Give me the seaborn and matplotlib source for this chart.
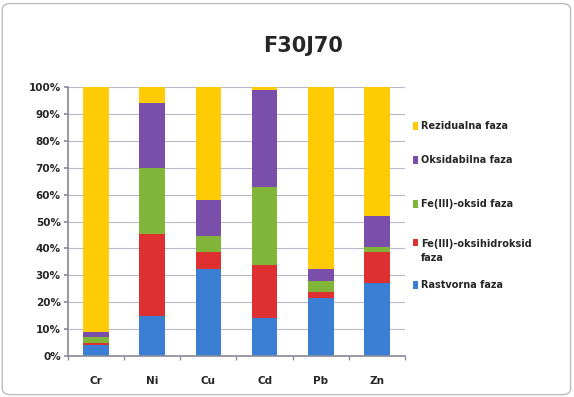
import numpy as np
import pandas as pd
import matplotlib
matplotlib.use("Agg")
import matplotlib.pyplot as plt
import seaborn as sns
from matplotlib.patches import Rectangle, FancyBboxPatch

# Fractions of each metal by extraction phase (%)
metals = ["Cr", "Ni", "Cu", "Cd", "Pb", "Zn"]
rastvorna = [4, 15, 32.5, 14, 21.5, 27]
oksihidroksid = [1, 30.5, 6, 20, 2.5, 11.5]
oksid = [2, 24.5, 6, 29, 4, 2]
oksidabilna = [2, 24, 13.5, 36, 4.5, 11.5]
rezidualna = [91, 6, 42, 1, 67.5, 48]

phases = ["Rastvorna faza", "Fe(III)-oksihidroksid\nfaza", "Fe(III)-oksid faza",
          "Oksidabilna faza", "Rezidualna faza"]
colors = ["#3b7fd4", "#de3030", "#80b53a", "#7a4fab", "#ffcb05"]

sns.set_theme(style="white")
plt.rcParams["font.family"] = ["DejaVu Sans"]

fig = plt.figure(figsize=(5.74, 3.97), dpi=100)
ax = fig.add_axes([0.118, 0.103, 0.588, 0.678])

series = [rastvorna, oksihidroksid, oksid, oksidabilna, rezidualna]
cum = np.cumsum(np.array(series, dtype=float), axis=0)
df = pd.DataFrame({"metal": metals})

# Stack by overdrawing cumulative totals, tallest first
for i in range(len(series) - 1, -1, -1):
    df["val"] = cum[i]
    sns.barplot(data=df, x="metal", y="val", color=colors[i], width=0.45,
                saturation=1, ax=ax, edgecolor="none", zorder=2 + (4 - i) * 0.01)

ax.set_ylim(0, 100)
ax.set_xlim(-0.5, 5.5)
ax.set_yticks(np.arange(0, 101, 10))
ax.set_yticklabels([f"{v}%" for v in range(0, 101, 10)], fontsize=7.5, fontweight="bold")
ax.set_xticklabels(metals, fontsize=7.5, fontweight="bold")
ax.set_xticks(np.arange(-0.5, 6, 1), minor=True)
ax.set_xlabel("")
ax.set_ylabel("")
ax.yaxis.grid(True, color="#b8b8cc", linewidth=0.8)
ax.set_axisbelow(True)
for s in ["top", "right"]:
    ax.spines[s].set_visible(False)
ax.spines["left"].set_color("#8c8c9c")
ax.spines["bottom"].set_color("#8c8c9c")
ax.tick_params(axis="y", length=3, color="#8c8c9c", pad=2, direction="out", left=True)
ax.tick_params(axis="x", which="major", length=0, pad=14)
ax.tick_params(axis="x", which="minor", length=3, color="#8c8c9c", direction="out", bottom=True)

fig.text(0.528, 0.885, "F30J70", ha="center", va="center", fontsize=15, fontweight="bold")

# Legend, top entry first
leg_y = [126, 160, 204, 251, 285]
for k, i in enumerate(range(len(series) - 1, -1, -1)):
    y = 1 - leg_y[k] / 397
    yy = y
    if "\n" in phases[i]:
        yy = y + 0.021
    fig.patches.append(Rectangle((0.719, yy - 0.009), 0.010, 0.018, transform=fig.transFigure,
                                 facecolor=colors[i], edgecolor="none"))
    fig.text(0.734, y, phases[i], ha="left", va="center", fontsize=7, fontweight="bold",
             linespacing=1.6)

fig.patches.append(FancyBboxPatch((0.004, 0.006), 0.99, 0.985, boxstyle="round,pad=0,rounding_size=0.015",
                                  transform=fig.transFigure, facecolor="none",
                                  edgecolor="#bdbdbd", linewidth=1))

fig.savefig("out.png", dpi=100)
